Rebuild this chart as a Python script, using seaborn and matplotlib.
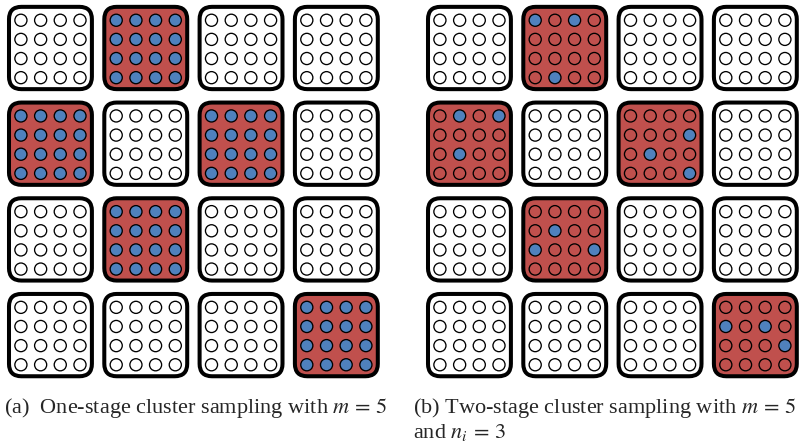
import matplotlib
matplotlib.use("Agg")
import matplotlib.pyplot as plt
from matplotlib.patches import FancyBboxPatch
import seaborn as sns
import pandas as pd

sns.set_theme(style="white")
plt.rcParams['font.family'] = ['Liberation Serif', 'DejaVu Serif']
plt.rcParams['mathtext.fontset'] = 'stix'

# ---- data ----
n_grid = 4          # 4x4 clusters
n_units = 4         # 4x4 units per cluster
selected_clusters = [(0, 1), (1, 0), (1, 2), (2, 1), (3, 3)]   # (row, col), m = 5
# two-stage: sampled units (row, col) within each selected cluster, n_i = 3
two_stage_units = {
    (0, 1): [(0, 0), (0, 2), (3, 1)],
    (1, 0): [(0, 1), (0, 3), (2, 1)],
    (1, 2): [(1, 3), (2, 1), (3, 3)],
    (2, 1): [(1, 1), (2, 0), (2, 3)],
    (3, 3): [(1, 0), (1, 2), (2, 3)],
}
captions_a = ["(a)  One-stage cluster sampling with $m\\,=\\,5$"]
captions_b = ["(b) Two-stage cluster sampling with $m\\,=\\,5$", "and $n_i\\,=\\,3$"]

RED = "#C0504D"
BLUE = "#4F81BD"
palette = {"out": "white", "cluster": RED, "sampled": BLUE}

ux = [0.19, 0.397, 0.603, 0.81]
uy = [0.21, 0.41, 0.61, 0.81]


def build_frame(two_stage):
    rows = []
    for cr in range(n_grid):
        for cc in range(n_grid):
            sel = (cr, cc) in selected_clusters
            for ur in range(n_units):
                for uc in range(n_units):
                    if not sel:
                        st = "out"
                    elif not two_stage or (ur, uc) in two_stage_units[(cr, cc)]:
                        st = "sampled"
                    else:
                        st = "cluster"
                    rows.append({"x": cc + ux[uc], "y": cr + uy[ur], "state": st,
                                 "crow": cr, "ccol": cc})
    return pd.DataFrame(rows)


W, H = 809, 444
fig = plt.figure(figsize=(W / 100, H / 100), dpi=100)

panel_left = [2.8, 421.8]
cell_w = 95.3
cell_h = 95.7
top = 0.15

for k, two_stage in enumerate([False, True]):
    ax = fig.add_axes([panel_left[k] / W, (H - top - 4 * cell_h) / H,
                       4 * cell_w / W, 4 * cell_h / H])
    ax.set_xlim(0, 4)
    ax.set_ylim(4, 0)
    ax.axis("off")
    for cr in range(n_grid):
        for cc in range(n_grid):
            sel = (cr, cc) in selected_clusters
            mx, my = 0.065, 0.07
            box = FancyBboxPatch((cc + mx, cr + my), 1 - 2 * mx, 1 - 2 * my,
                                 boxstyle="round,pad=0,rounding_size=0.13",
                                 facecolor=RED if sel else "white",
                                 edgecolor="black", linewidth=2.9, zorder=1)
            ax.add_patch(box)
    df = build_frame(two_stage)
    sns.scatterplot(data=df, x="x", y="y", hue="state", palette=palette,
                    s=76, edgecolor="black", linewidth=0.95, legend=False,
                    ax=ax, zorder=3)
    ax.set_xlim(0, 4)
    ax.set_ylim(4, 0)
    ax.axis("off")

fs = 16
fig.text(4 / W, (H - 413) / H, captions_a[0], fontsize=fs, va="baseline", ha="left")
fig.text(413 / W, (H - 413) / H, captions_b[0], fontsize=fs, va="baseline", ha="left")
fig.text(413 / W, (H - 438) / H, captions_b[1], fontsize=fs, va="baseline", ha="left")

fig.savefig("out.png", dpi=100)
